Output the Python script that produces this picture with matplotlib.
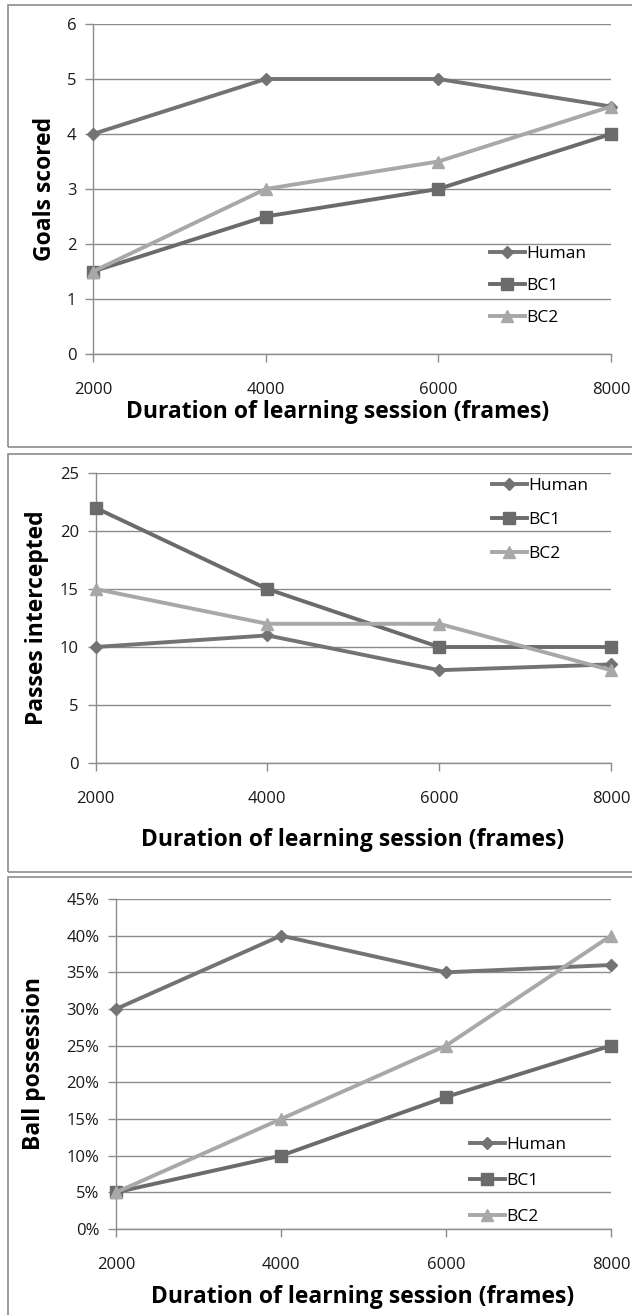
import matplotlib
matplotlib.use("Agg")
import matplotlib.pyplot as plt
from matplotlib.patches import Rectangle
from matplotlib.ticker import FuncFormatter

plt.rcParams['font.family'] = ['Open Sans', 'DejaVu Sans']

frames = [2000, 4000, 6000, 8000]

goals_human = [4, 5, 5, 4.5]
goals_bc1 = [1.5, 2.5, 3, 4]
goals_bc2 = [1.5, 3, 3.5, 4.5]

passes_human = [10, 11, 8, 8.5]
passes_bc1 = [22, 15, 10, 10]
passes_bc2 = [15, 12, 12, 8]

poss_human = [30, 40, 35, 36]
poss_bc1 = [5, 10, 18, 25]
poss_bc2 = [5, 15, 25, 40]

series_names = ["Human", "BC1", "BC2"]
W, H = 632, 1315

# colours
C_HUMAN = "#737373"
C_BC1 = "#6b6b6b"
C_BC2 = "#a8a8a8"
C_GRID = "#8c8c8c"

LEG_FS = 12.5


def fx(px):
    return px / W


def fy(py):
    return 1 - py / H


def draw_panel(fig, rect, series, ylabel, ylim, ystep, legend_xy, leg_gap,
               ylab_x, xlab_xy, pct=False):
    """ one Excel-style line chart; rect is (left, top, right, bottom) in pixels """
    l, t, r, b = rect
    ax = fig.add_axes([fx(l), fy(b), fx(r - l), (b - t) / H])
    styles = [(C_HUMAN, "D", 6.5), (C_BC1, "s", 8.5), (C_BC2, "^", 8.5)]
    for (vals, name), (c, m, ms) in zip(zip(series, series_names), styles):
        ax.plot(frames, vals, color=c, lw=2.8, marker=m, ms=ms, label=name,
                clip_on=False, zorder=3)
    ax.set_xlim(frames[0], frames[-1])
    ax.set_ylim(*ylim)
    yt = [ylim[0] + i * ystep for i in range(int(round((ylim[1] - ylim[0]) / ystep)) + 1)]
    ax.set_yticks(yt)
    ax.set_xticks(frames)
    if pct:
        ax.yaxis.set_major_formatter(FuncFormatter(lambda v, p: f"{int(round(v))}%"))
    ax.grid(axis="y", color=C_GRID, lw=1)
    ax.set_axisbelow(True)
    for s in ["top", "right"]:
        ax.spines[s].set_visible(False)
    for s in ["left", "bottom"]:
        ax.spines[s].set_color(C_GRID)
        ax.spines[s].set_linewidth(1)
    ax.tick_params(axis="both", colors=C_GRID, labelcolor="#1a1a1a", length=6, width=1,
                   labelsize=12)
    ax.tick_params(axis="x", pad=14)
    ax.tick_params(axis="y", pad=6)

    # axis titles placed by pixel centre
    ax.set_ylabel(ylabel, fontsize=16.5, fontweight="bold", va="center")
    ax.yaxis.set_label_coords((ylab_x - l) / (r - l), 0.5)
    ax.set_xlabel("Duration of learning session (frames)", fontsize=16.5,
                  fontweight="bold", va="center")
    ax.xaxis.set_label_coords((xlab_xy[0] - l) / (r - l), (b - xlab_xy[1]) / (b - t))

    lx, ly = legend_xy
    fs_px = LEG_FS * 100 / 72
    ax.legend(loc="center left", frameon=False, fontsize=LEG_FS,
              bbox_to_anchor=((lx - l) / (r - l), (b - ly) / (b - t)),
              handlelength=2.0, handletextpad=0.1,
              labelspacing=(leg_gap - 16.2) / fs_px, borderpad=0, borderaxespad=0)
    return ax


fig = plt.figure(figsize=(W / 100, H / 100), dpi=100)

# grey boxes round each chart, as in the source document
for top, bot in [(5, 447), (454, 872), (877, 1330)]:
    fig.add_artist(Rectangle((fx(8), fy(bot)), fx(700), (bot - top) / H,
                             transform=fig.transFigure, fill=False,
                             edgecolor="#8c8c8c", lw=1.2))

ax1 = draw_panel(fig, (93, 24, 611, 354), [goals_human, goals_bc1, goals_bc2],
                 "Goals scored", (0, 6), 1, (490, 286), 32, 45, (338, 412))

ax2 = draw_panel(fig, (95.5, 473, 611, 763), [passes_human, passes_bc1, passes_bc2],
                 "Passes intercepted", (0, 25), 5, (492, 520), 34, 37, (353, 840))

ax3 = draw_panel(fig, (116, 899, 611, 1229), [poss_human, poss_bc1, poss_bc2],
                 "Ball possession", (0, 45), 5, (470, 1181), 36, 34, (363, 1297), pct=True)

fig.savefig("out.png", dpi=100)
